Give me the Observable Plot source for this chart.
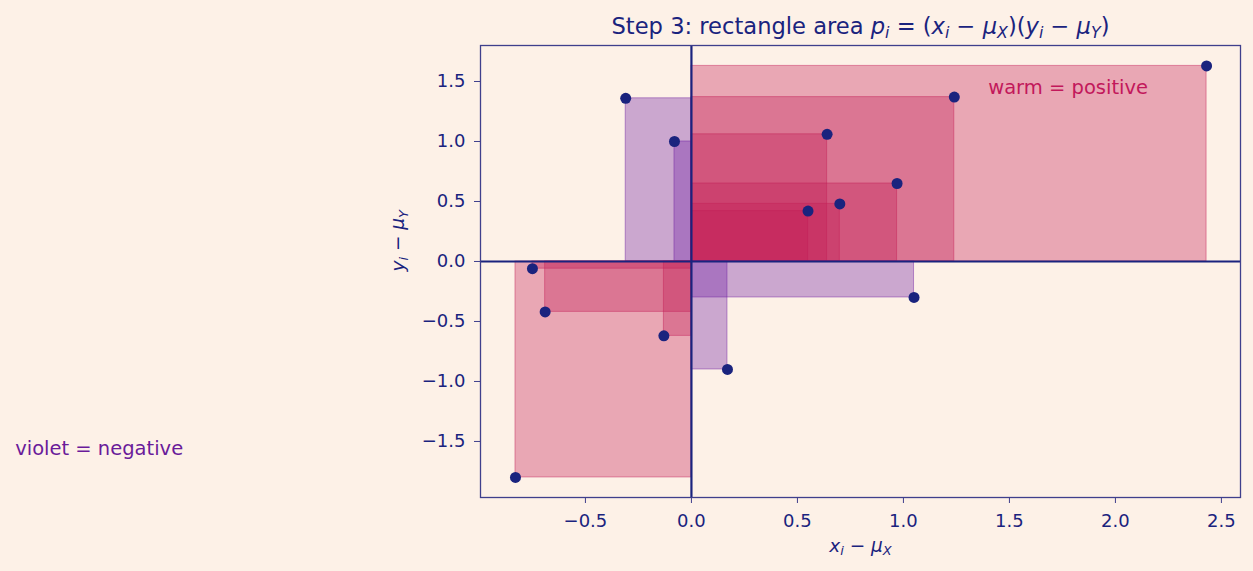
<!DOCTYPE html>
<html><head><meta charset="utf-8">
<script src="https://cdn.jsdelivr.net/npm/d3@7"></script>
<script src="https://cdn.jsdelivr.net/npm/@observablehq/plot@0.6"></script>
<style>
html,body{margin:0;padding:0;background:#fdf1e7;}
#chart svg{display:block;}
</style>
</head><body><div id="chart"></div>
<script>
// centred deviations
const devX = [2.43, 1.24, -0.31, -0.08, 0.64, 0.97, 0.55, 0.70, 1.05, 0.17, -0.13, -0.69, -0.75, -0.83];
const devY = [1.63, 1.37, 1.36, 1.00, 1.06, 0.65, 0.42, 0.48, -0.30, -0.90, -0.62, -0.42, -0.06, -1.80];
const xTicks = [-0.5, 0.0, 0.5, 1.0, 1.5, 2.0, 2.5];
const yTicks = [-1.5, -1.0, -0.5, 0.0, 0.5, 1.0, 1.5];
const annotations = [
  {x: 1.40, y: 1.45, text: "warm = positive", color: "#c2185b"},
  {x: -3.19, y: -1.56, text: "violet = negative", color: "#6a1b9a"}
];

const data = devX.map((x, i) => ({x, y: devY[i], p: x * devY[i]}));
const NAVY = "#1a237e";
const WARM = "#c41e56";
const VIOLET = "#6e1ea2";
const fmt = d => d.toFixed(1).replace("-", "\u2212");

const chart = Plot.plot({
  width: 1253,
  height: 571,
  marginLeft: 480,
  marginRight: 13,
  marginTop: 45,
  marginBottom: 74,
  style: {background: "#fdf1e7", fontFamily: "DejaVu Sans", fontSize: "18px", color: NAVY},
  x: {domain: [-0.995, 2.59], label: null},
  y: {domain: [-1.967, 1.8], label: null},
  marks: [
    Plot.rect(data, {x1: 0, x2: "x", y1: 0, y2: "y",
      fill: d => d.p >= 0 ? WARM : VIOLET, fillOpacity: 0.35,
      stroke: d => d.p >= 0 ? WARM : VIOLET, strokeOpacity: 0.45, strokeWidth: 1}),
    Plot.ruleX([0], {stroke: NAVY, strokeWidth: 2.2}),
    Plot.ruleY([0], {stroke: NAVY, strokeWidth: 2.2}),
    Plot.dot(data, {x: "x", y: "y", r: 5.5, fill: NAVY, stroke: "none"}),
    Plot.text(annotations, {x: "x", y: "y", text: "text", fill: "color", textAnchor: "start", fontSize: 19.5, clip: false}),
    Plot.frame({stroke: "#3f3f8c", strokeWidth: 1.3}),
    Plot.axisX({ticks: xTicks, tickFormat: fmt, tickSize: 6, tickPadding: 11, stroke: "#3f3f8c", fill: NAVY, label: null, fontSize: 18}),
    Plot.axisY({ticks: yTicks, tickFormat: fmt, tickSize: 6, tickPadding: 9, stroke: "#3f3f8c", fill: NAVY, label: null, fontSize: 18}),
    Plot.text(["TITLEPH"], {frameAnchor: "top", dy: -28, fontSize: 22.6, fill: NAVY}),
    Plot.text(["XLABPH"], {frameAnchor: "bottom", dy: 54, fontSize: 18.5, fill: NAVY}),
    Plot.text(["YLABPH"], {frameAnchor: "left", dx: -82, rotate: -90, fontSize: 18.5, fill: NAVY})
  ]
});
document.getElementById("chart").appendChild(chart);

// mathtext-like rendering: [string, kind] kind: n normal, i italic, s italic subscript
function setMath(placeholder, parts) {
  d3.select(chart).selectAll("text").filter(function() { return this.textContent === placeholder; }).each(function() {
    const t = d3.select(this);
    t.text(null);
    let shifted = false;
    for (const [s, k] of parts) {
      const ts = t.append("tspan").text(s);
      if (k === "i" || k === "s") ts.attr("font-style", "italic");
      if (k === "s") {
        ts.attr("font-size", "70%");
        if (!shifted) { ts.attr("dy", "0.3em"); shifted = true; }
      } else if (shifted) {
        ts.attr("dy", "-0.21em"); shifted = false;
      }
    }
  });
}
setMath("TITLEPH", [["Step 3: rectangle area ", "n"], ["p", "i"], ["i", "s"], [" = (", "n"], ["x", "i"], ["i", "s"],
  [" \u2212 ", "n"], ["\u03bc", "i"], ["X", "s"], [")(", "n"], ["y", "i"], ["i", "s"], [" \u2212 ", "n"], ["\u03bc", "i"], ["Y", "s"], [")", "n"]]);
setMath("XLABPH", [["x", "i"], ["i", "s"], [" \u2212 ", "n"], ["\u03bc", "i"], ["X", "s"]]);
setMath("YLABPH", [["y", "i"], ["i", "s"], [" \u2212 ", "n"], ["\u03bc", "i"], ["Y", "s"]]);
</script>
</body></html>
